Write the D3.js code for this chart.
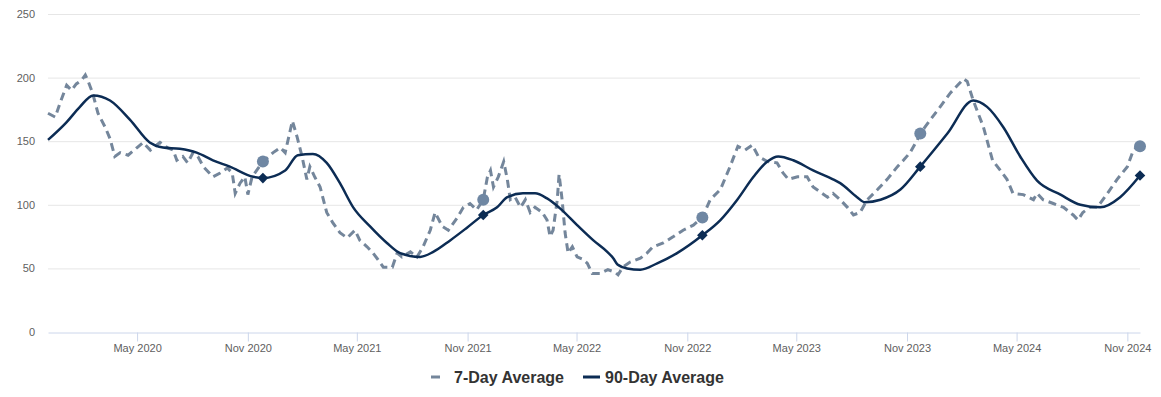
<!DOCTYPE html>
<html>
<head>
<meta charset="utf-8">
<script src="https://cdn.jsdelivr.net/npm/d3@7"></script>
<style>
  body { margin: 0; background: #fff; font-family: "Liberation Sans", Arial, sans-serif; }
  .axis text { font-family: "Liberation Sans", Arial, sans-serif; }
</style>
</head>
<body>
<script>
var w = 1161,
  h = 397;

// 7-day average (weekly readings)
var shortDates = ['2019-12-05', '2019-12-17', '2019-12-25', '2020-01-05', '2020-01-13', '2020-01-21', '2020-01-30',
  '2020-02-05', '2020-02-09', '2020-02-17', '2020-02-26', '2020-03-09', '2020-03-17', '2020-03-25', '2020-04-03',
  '2020-04-16', '2020-05-01', '2020-05-11', '2020-05-23', '2020-06-08', '2020-06-20', '2020-06-30', '2020-07-06',
  '2020-07-16', '2020-07-24', '2020-08-02', '2020-08-10', '2020-08-19', '2020-09-04', '2020-09-16', '2020-09-28',
  '2020-10-06', '2020-10-11', '2020-10-19', '2020-10-27', '2020-11-01', '2020-11-08', '2020-11-26', '2020-12-13',
  '2020-12-25', '2021-01-02', '2021-01-14', '2021-01-22', '2021-01-30', '2021-02-07', '2021-02-12', '2021-02-20',
  '2021-03-01', '2021-03-12', '2021-03-22', '2021-04-03', '2021-04-15', '2021-04-28', '2021-05-06', '2021-05-18',
  '2021-05-28', '2021-06-05', '2021-06-14', '2021-06-29', '2021-07-07', '2021-07-15', '2021-07-29', '2021-08-09',
  '2021-08-19', '2021-08-31', '2021-09-08', '2021-09-20', '2021-09-30', '2021-10-15', '2021-10-25', '2021-11-05',
  '2021-11-16', '2021-11-27', '2021-12-04', '2021-12-09', '2021-12-14', '2021-12-22', '2021-12-31', '2022-01-06',
  '2022-01-11', '2022-01-19', '2022-01-28', '2022-02-05', '2022-02-13', '2022-02-21', '2022-03-05', '2022-03-13',
  '2022-03-18', '2022-03-23', '2022-03-30', '2022-04-02', '2022-04-07', '2022-04-12', '2022-04-17', '2022-04-24',
  '2022-05-02', '2022-05-12', '2022-05-19', '2022-05-27', '2022-06-09', '2022-06-22', '2022-07-04', '2022-07-09',
  '2022-07-17', '2022-07-29', '2022-08-15', '2022-08-26', '2022-09-05', '2022-09-22', '2022-10-09', '2022-10-25',
  '2022-11-11', '2022-11-26', '2022-12-09', '2022-12-26', '2023-01-11', '2023-01-24', '2023-02-05', '2023-02-17',
  '2023-02-27', '2023-03-14', '2023-03-30', '2023-04-09', '2023-04-18', '2023-05-03', '2023-05-19', '2023-05-29',
  '2023-06-10', '2023-06-22', '2023-07-01', '2023-07-13', '2023-07-25', '2023-08-04', '2023-08-15', '2023-08-27',
  '2023-09-13', '2023-09-29', '2023-10-16', '2023-10-26', '2023-11-06', '2023-11-18', '2023-11-23', '2023-12-10',
  '2023-12-26', '2024-01-12', '2024-01-24', '2024-02-03', '2024-02-09', '2024-02-19', '2024-03-07', '2024-03-22',
  '2024-04-04', '2024-04-15', '2024-04-25', '2024-05-12', '2024-05-29', '2024-06-04', '2024-06-14', '2024-07-01',
  '2024-07-18', '2024-08-03', '2024-08-11', '2024-08-19', '2024-08-31', '2024-09-12', '2024-09-29', '2024-10-15',
  '2024-11-01', '2024-11-11', '2024-11-22'];
var shortValues = [172, 169, 180, 194, 190, 195, 198,
  202, 198, 188, 172, 161, 152, 138, 141,
  139, 145, 149, 143, 149, 145, 143, 135,
  138, 133, 141, 138, 130, 122, 125, 129,
  125, 109, 117, 122, 108, 122, 134, 141,
  145, 141, 166, 153, 138, 120, 130, 122,
  114, 94, 86, 78, 74, 80, 72, 67,
  62, 57, 51, 51, 62, 59, 63, 59,
  67, 80, 94, 83, 80, 90, 98, 101,
  96, 104, 122, 127, 114, 122, 134, 120,
  104, 106, 98, 104, 94, 98, 94, 88,
  75, 80, 104, 124, 104, 78, 62, 67,
  59, 57, 54, 46, 46, 49, 47, 45,
  51, 55, 58, 62, 67, 70, 75, 80,
  84, 90, 104, 112, 130, 146, 143, 147,
  138, 134, 133, 125, 120, 122, 122, 114,
  110, 106, 109, 104, 98, 92, 94, 104,
  112, 120, 130, 135, 141, 151, 156, 167,
  177, 188, 194, 199, 197, 182, 161, 135,
  127, 120, 109, 108, 104, 109, 104, 101,
  98, 92, 88, 94, 98, 98, 109, 120,
  130, 143, 147];

// 90-day average
var longDates = ['2019-12-05', '2020-01-05', '2020-01-27', '2020-02-18', '2020-03-17', '2020-04-19', '2020-05-22',
  '2020-06-13', '2020-07-11', '2020-08-08', '2020-09-04', '2020-10-02', '2020-11-10', '2020-11-26', '2021-01-02',
  '2021-01-23', '2021-02-17', '2021-03-12', '2021-04-03', '2021-04-25', '2021-05-23', '2021-06-20', '2021-07-12',
  '2021-08-14', '2021-09-05', '2021-10-03', '2021-10-31', '2021-11-27', '2021-12-20', '2022-01-06', '2022-02-01',
  '2022-02-21', '2022-03-13', '2022-04-04', '2022-05-02', '2022-05-29', '2022-06-21', '2022-07-01', '2022-07-08',
  '2022-07-24', '2022-08-15', '2022-09-12', '2022-10-15', '2022-11-26', '2022-12-26', '2023-01-23', '2023-02-19',
  '2023-03-14', '2023-04-01', '2023-04-26', '2023-05-29', '2023-07-01', '2023-07-13', '2023-08-10', '2023-08-23',
  '2023-09-18', '2023-10-21', '2023-11-23', '2024-01-07', '2024-02-19', '2024-03-13', '2024-04-09', '2024-05-07',
  '2024-06-04', '2024-07-13', '2024-08-15', '2024-09-17', '2024-10-20', '2024-11-22'];
var longValues = [151, 165, 177, 186, 182, 167, 149,
  145, 144, 141, 135, 130, 122, 121, 127,
  139, 140, 133, 117, 98, 83, 70, 62,
  59, 63, 72, 82, 92, 98, 106, 109,
  109, 105, 97, 84, 72, 63, 58, 53,
  50, 49, 54, 62, 76, 88, 104, 122,
  134, 138, 135, 127, 120, 117, 106, 102,
  104, 112, 130, 156, 182, 177, 161, 138,
  119, 108, 100, 98, 106, 123];

// highlighted points
var markerDates = ['2020-11-26', '2021-11-27', '2022-11-26', '2023-11-23', '2024-11-22'];
var markerShort = [134, 104, 90, 156, 146];
var markerLong = [121, 92, 76, 130, 123];

var tickDates = ['2020-05-01', '2020-11-01', '2021-05-01', '2021-11-01', '2022-05-01',
  '2022-11-01', '2023-05-01', '2023-11-01', '2024-05-01', '2024-11-01'];
var yTicks = [0, 50, 100, 150, 200, 250];

var parse = d3.timeParse('%Y-%m-%d');
var shortColor = '#74869b',
  dotColor = '#6f87a3',
  longColor = '#0c2c54';

var margin = { left: 48, right: 21, top: 14, bottom: 65 };

var x = d3.scaleTime()
  .domain([parse('2019-12-05'), parse('2024-11-22')])
  .range([margin.left, w - margin.right]);

var y = d3.scaleLinear()
  .domain([0, 250])
  .range([h - margin.bottom, margin.top]);

var svg = d3.select('body').append('svg')
  .attr('width', w)
  .attr('height', h);

// grid
svg.append('g')
  .selectAll('line')
  .data(yTicks.filter(function (d) { return d > 0; }))
  .enter()
  .append('line')
  .attr('x1', margin.left)
  .attr('x2', w - margin.right)
  .attr('y1', function (d) { return y(d) + 0.5; })
  .attr('y2', function (d) { return y(d) + 0.5; })
  .attr('stroke', '#e6e6e6')
  .attr('stroke-width', 1);

// y axis labels
var yAxis = svg.append('g')
  .attr('class', 'axis')
  .attr('transform', 'translate(' + 35 + ',0)')
  .call(d3.axisLeft(y).tickValues(yTicks).tickSize(0).tickPadding(0));
yAxis.select('.domain').remove();
yAxis.selectAll('text')
  .attr('fill', '#606060')
  .style('font-size', '11px');

// x axis
var xAxis = svg.append('g')
  .attr('class', 'axis')
  .attr('transform', 'translate(0,' + (y(0) + 0.5) + ')')
  .call(d3.axisBottom(x)
    .tickValues(tickDates.map(parse))
    .tickFormat(d3.timeFormat('%b %Y'))
    .tickSize(9)
    .tickSizeOuter(0)
    .tickPadding(3));
xAxis.select('.domain')
  .attr('stroke', '#ccd6eb');
xAxis.selectAll('.tick line')
  .attr('stroke', '#ccd6eb');
xAxis.selectAll('text')
  .attr('fill', '#606060')
  .style('font-size', '11px');

var shortData = shortDates.map(function (d, i) { return { date: parse(d), value: shortValues[i] }; });
var longData = longDates.map(function (d, i) { return { date: parse(d), value: longValues[i] }; });

var shortLine = d3.line()
  .x(function (d) { return x(d.date); })
  .y(function (d) { return y(d.value); });

var longLine = d3.line()
  .curve(d3.curveMonotoneX)
  .x(function (d) { return x(d.date); })
  .y(function (d) { return y(d.value); });

svg.append('path')
  .datum(shortData)
  .attr('d', shortLine)
  .attr('fill', 'none')
  .attr('stroke', shortColor)
  .attr('stroke-width', 3)
  .attr('stroke-dasharray', '8,5');

svg.append('path')
  .datum(longData)
  .attr('d', longLine)
  .attr('fill', 'none')
  .attr('stroke', longColor)
  .attr('stroke-width', 2.5)
  .attr('stroke-linejoin', 'round');

// markers
svg.append('g')
  .selectAll('circle')
  .data(markerDates)
  .enter()
  .append('circle')
  .attr('cx', function (d) { return x(parse(d)); })
  .attr('cy', function (d, i) { return y(markerShort[i]); })
  .attr('r', 6)
  .attr('fill', dotColor);

svg.append('g')
  .selectAll('path')
  .data(markerDates)
  .enter()
  .append('path')
  .attr('d', d3.symbol().type(d3.symbolSquare).size(56))
  .attr('transform', function (d, i) {
    return 'translate(' + x(parse(d)) + ',' + y(markerLong[i]) + ') rotate(45)';
  })
  .attr('fill', longColor);

// legend
var legend = svg.append('g');
var legendItems = [
  { name: '7-Day Average', color: shortColor, x: 431, len: 12, dash: '9,5' },
  { name: '90-Day Average', color: longColor, x: 583, len: 17, dash: null }
];
legendItems.forEach(function (item) {
  legend.append('line')
    .attr('x1', item.x)
    .attr('x2', item.x + item.len)
    .attr('y1', 377)
    .attr('y2', 377)
    .attr('stroke', item.color)
    .attr('stroke-width', 3)
    .attr('stroke-dasharray', item.dash);
  legend.append('text')
    .attr('x', item.x + (item.len === 12 ? 23 : 22))
    .attr('y', 383)
    .attr('fill', '#333')
    .style('font-size', '16px')
    .style('font-weight', 'bold')
    .text(item.name);
});
</script>
</body>
</html>
